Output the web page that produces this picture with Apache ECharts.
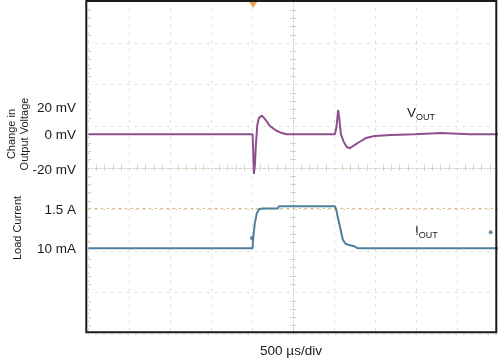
<!DOCTYPE html>
<html>
<head>
<meta charset="utf-8">
<script src="https://cdn.jsdelivr.net/npm/echarts@6/dist/echarts.min.js"></script>
<style>
html,body{margin:0;padding:0;background:#fff;}
#c{width:498px;height:358px;}
</style>
</head>
<body>
<div id="c"></div>
<script>
// ---- data (time in µs, voltage change in mV, current in A) ----
var voutTime = [0, 2005, 2012, 2021, 2033, 2045, 2063, 2082, 2118, 2155, 2216, 2297, 2362, 2420, 3009, 3027, 3049, 3063, 3082, 3118, 3155, 3191, 3252, 3313, 3387, 3493, 3691, 3984, 3996, 4301, 4313, 4655, 4667, 4691, 5000];
var voutMv   = [0, 0, -7.6, -19.1, -14.8, -5.1, 4.5, 7.8, 9.0, 7.4, 4.0, 1.7, 0.6, 0, 0, 3.0, 11.7, 7.8, 0.1, -3.7, -6.1, -6.7, -5.1, -3.6, -1.8, -0.8, -0.3, 0, 0.6, 0.6, 0, 0, 0.3, 0, 0];
var ioutTime = [0, 2005, 2012, 2033, 2057, 2088, 2130, 2313, 2326, 3009, 3027, 3039, 3066, 3088, 3106, 3137, 3167, 3249, 3289, 5000];
var ioutA    = [0.01, 0.01, 0.393, 0.95, 1.322, 1.47, 1.489, 1.489, 1.574, 1.574, 1.433, 1.247, 0.887, 0.579, 0.330, 0.188, 0.144, 0.084, 0.01, 0.01];
var iMarkerTime = [1996, 4911];
var iMarkerA = [0.393, 0.605];
var triggerTime = [2012];
var triggerMv = [62.2];
var iRefLevel = 1.5;

var voltTickLabels = ['20 mV', '0 mV', '-20 mV'];
var currTickLabels = ['1.5 A', '10 mA'];
var voltTitle = 'Change in\nOutput Voltage';
var currTitle = 'Load Current';
var xTitle = '500 µs/div';
var voutName = ['V', 'OUT'];
var ioutName = ['I', 'OUT'];

function pairs(a, b) { return a.map(function (v, i) { return [v, b[i]]; }); }

var FONT = 'Liberation Sans, Arial, sans-serif';
var gridColor = '#d2d2c2';
var chart = echarts.init(document.getElementById('c'));

var divAxisBase = {
  gridIndex: 0, type: 'value', axisLabel: {show: false}, axisTick: {show: false},
  splitLine: {show: false}, axisLine: {show: false}
};
function divAxis(extra) { return Object.assign({}, divAxisBase, extra); }

var option = {
  animation: false,
  backgroundColor: '#ffffff',
  grid: [{left: 88.3, top: 1.5, width: 410, height: 332.5, show: false}],
  xAxis: [
    {gridIndex: 0, type: 'value', min: 0, max: 5000, show: false},
    divAxis({min: -5, max: 5, interval: 1,
      splitLine: {show: true, lineStyle: {color: gridColor, width: 1, type: [2, 6], dashOffset: 1}},
      axisLine: {show: true, onZero: true, onZeroAxisIndex: 3, lineStyle: {color: gridColor, width: 1, type: [1, 2]}},
      axisTick: {show: false, inside: false},
      minorTick: {show: true, splitNumber: 5, length: 3, lineStyle: {color: gridColor, width: 1}}}),
    divAxis({min: -5, max: 5, interval: 1,
      axisLine: {show: false, onZero: true, onZeroAxisIndex: 3},
      axisTick: {show: false, inside: true},
      minorTick: {show: true, splitNumber: 5, length: 3, lineStyle: {color: gridColor, width: 1}}})
  ],
  yAxis: [
    {gridIndex: 0, type: 'value', min: -96.1, max: 63.9, show: false},
    {gridIndex: 0, type: 'value', min: -3.175, max: 9.181, show: false},
    divAxis({min: -4, max: 4, interval: 1, position: 'left',
      axisLine: {show: false, onZero: false},
      axisTick: {show: false, inside: true},
      minorTick: {show: true, splitNumber: 5, length: 3, lineStyle: {color: gridColor, width: 1}}}),
    divAxis({min: -4, max: 4, interval: 1,
      splitLine: {show: true, lineStyle: {color: gridColor, width: 1, type: [2, 6], dashOffset: 1}},
      axisLine: {show: true, onZero: true, onZeroAxisIndex: 1, lineStyle: {color: gridColor, width: 1, type: [1, 2]}},
      axisTick: {show: false, inside: false},
      minorTick: {show: true, splitNumber: 5, length: 3, lineStyle: {color: gridColor, width: 1}}}),
    divAxis({min: -4, max: 4, interval: 1,
      axisLine: {show: false, onZero: true, onZeroAxisIndex: 1},
      axisTick: {show: false, inside: true},
      minorTick: {show: true, splitNumber: 5, length: 3, lineStyle: {color: gridColor, width: 1}}})
  ],
  series: [
    {
      name: 'IOUT', type: 'line', xAxisIndex: 0, yAxisIndex: 1, data: pairs(ioutTime, ioutA),
      showSymbol: false, symbol: 'none', z: 5,
      lineStyle: {color: '#4f7f9e', width: 2},
      markLine: {
        silent: true, symbol: 'none', label: {show: false},
        lineStyle: {color: '#dcbf8c', width: 1.2, type: [3, 3]},
        data: [{yAxis: iRefLevel}]
      }
    },
    {
      name: 'VOUT', type: 'line', xAxisIndex: 0, yAxisIndex: 0, data: pairs(voutTime, voutMv),
      showSymbol: false, symbol: 'none', z: 6,
      lineStyle: {color: '#8d4f8d', width: 2}
    },
    {
      name: 'markers', type: 'scatter', xAxisIndex: 0, yAxisIndex: 1, data: pairs(iMarkerTime, iMarkerA),
      symbol: 'circle', symbolSize: 4, itemStyle: {color: '#3f6f90'}, z: 7
    },
    {
      name: 'trigger', type: 'scatter', xAxisIndex: 0, yAxisIndex: 0, data: pairs(triggerTime, triggerMv),
      symbol: 'triangle', symbolRotate: 180, symbolSize: [8, 6], itemStyle: {color: '#e8892a'}, z: 8
    }
  ],
  graphic: [
    {type: 'rect', shape: {x: 86.3, y: 1, width: 410, height: 331.3}, style: {fill: 'none', stroke: '#1a1a1a', lineWidth: 2}, z: 100},
    {type: 'text', x: 76, y: 108.5, style: {text: voltTickLabels[0], font: '13.5px ' + FONT, fill: '#1a1a1a', textAlign: 'right', textVerticalAlign: 'middle'}},
    {type: 'text', x: 76, y: 135.5, style: {text: voltTickLabels[1], font: '13.5px ' + FONT, fill: '#1a1a1a', textAlign: 'right', textVerticalAlign: 'middle'}},
    {type: 'text', x: 76, y: 170.5, style: {text: voltTickLabels[2], font: '13.5px ' + FONT, fill: '#1a1a1a', textAlign: 'right', textVerticalAlign: 'middle'}},
    {type: 'text', x: 76, y: 210, style: {text: currTickLabels[0], font: '13.5px ' + FONT, fill: '#1a1a1a', textAlign: 'right', textVerticalAlign: 'middle'}},
    {type: 'text', x: 76, y: 249, style: {text: currTickLabels[1], font: '13.5px ' + FONT, fill: '#1a1a1a', textAlign: 'right', textVerticalAlign: 'middle'}},
    {type: 'text', x: 18.5, y: 134, rotation: Math.PI / 2,
      style: {text: voltTitle, font: '11px ' + FONT, fill: '#1a1a1a', textAlign: 'center', textVerticalAlign: 'middle', lineHeight: 12.5}},
    {type: 'text', x: 17.5, y: 228, rotation: Math.PI / 2,
      style: {text: currTitle, font: '11px ' + FONT, fill: '#1a1a1a', textAlign: 'center', textVerticalAlign: 'middle'}},
    {type: 'text', x: 291, y: 351, style: {text: xTitle, font: '13.5px ' + FONT, fill: '#1a1a1a', textAlign: 'center', textVerticalAlign: 'middle'}},
    {type: 'text', x: 407, y: 112, style: {
      text: '{a|' + voutName[0] + '}{b|' + voutName[1] + '}', textVerticalAlign: 'middle',
      rich: {a: {font: '13.5px ' + FONT, fill: '#1a1a1a', color: '#1a1a1a', verticalAlign: 'bottom', lineHeight: 16},
             b: {font: '9px ' + FONT, fill: '#1a1a1a', color: '#1a1a1a', verticalAlign: 'bottom', lineHeight: 10, padding: [0, 0, -2, 0]}}}},
    {type: 'text', x: 415, y: 230, style: {
      text: '{a|' + ioutName[0] + '}{b|' + ioutName[1] + '}', textVerticalAlign: 'middle',
      rich: {a: {font: '13.5px ' + FONT, fill: '#1a1a1a', color: '#1a1a1a', verticalAlign: 'bottom', lineHeight: 16},
             b: {font: '9px ' + FONT, fill: '#1a1a1a', color: '#1a1a1a', verticalAlign: 'bottom', lineHeight: 10, padding: [0, 0, -2, 0]}}}}
  ]
};
chart.setOption(option);
</script>
</body>
</html>
